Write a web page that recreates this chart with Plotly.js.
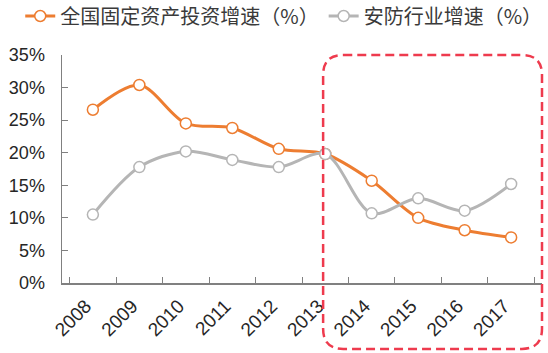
<!DOCTYPE html>
<html><head><meta charset="utf-8">
<script src="https://cdn.plot.ly/plotly-3.0.1.min.js"></script>
<style>html,body{margin:0;padding:0;background:#fff}#chart{width:548px;height:353px}</style>
</head><body><div id="chart"></div>
<script>
var years = ['2008','2009','2010','2011','2012','2013','2014','2015','2016','2017'];
var faiGrowth = [26.6, 30.4, 24.5, 23.8, 20.6, 19.8, 15.7, 10.0, 8.1, 7.0];
var securityGrowth = [10.5, 17.8, 20.2, 18.9, 17.8, 19.8, 10.7, 13.0, 11.1, 15.2];
var seriesNames = ['全国固定资产投资增速（%）', '安防行业增速（%）'];
var yTicks = [0, 5, 10, 15, 20, 25, 30, 35];

var traces = [
  {x: years, y: faiGrowth, name: seriesNames[0], type: 'scatter', mode: 'lines+markers',
   line: {color: '#ED7D31', width: 3, shape: 'spline', smoothing: 0.9},
   marker: {symbol: 'circle', size: 11, color: '#FFFFFF', line: {color: '#ED7D31', width: 1.5}}},
  {x: years, y: securityGrowth, name: seriesNames[1], type: 'scatter', mode: 'lines+markers',
   line: {color: '#B5B5B5', width: 3, shape: 'spline', smoothing: 0.9},
   marker: {symbol: 'circle', size: 11, color: '#FFFFFF', line: {color: '#B5B5B5', width: 1.5}}}
];

// rounded dashed rectangle (paper coords)
var x0 = 0.544, x1 = 1.0, y0 = -0.289, y1 = 1.0, rx = 0.042, ry = 0.088;
var path = 'M ' + (x0+rx) + ' ' + y1 + ' L ' + (x1-rx) + ' ' + y1 +
  ' Q ' + x1 + ' ' + y1 + ' ' + x1 + ' ' + (y1-ry) +
  ' L ' + x1 + ' ' + (y0+ry) + ' Q ' + x1 + ' ' + y0 + ' ' + (x1-rx) + ' ' + y0 +
  ' L ' + (x0+rx) + ' ' + y0 + ' Q ' + x0 + ' ' + y0 + ' ' + x0 + ' ' + (y0+ry) +
  ' L ' + x0 + ' ' + (y1-ry) + ' Q ' + x0 + ' ' + y1 + ' ' + (x0+rx) + ' ' + y1 + ' Z';

var layout = {
  width: 548, height: 353,
  margin: {l: 62, r: 6, t: 55, b: 70, autoexpand: false},
  paper_bgcolor: '#FFFFFF', plot_bgcolor: '#FFFFFF',
  font: {family: 'Liberation Sans, Arial, sans-serif', color: '#262626'},
  showlegend: true,
  legend: {orientation: 'h', x: -0.087, xanchor: 'left', y: 1.171, yanchor: 'middle',
           font: {family: 'Noto Sans CJK SC', size: 20, color: '#3A3A3A'},
           itemgap: 4, bgcolor: 'rgba(0,0,0,0)'},
  xaxis: {type: 'category', tickson: 'boundaries', ticks: 'inside', ticklen: 6, tickcolor: '#808080',
          showline: true, linecolor: '#808080', linewidth: 1.5, showgrid: false, zeroline: false,
          tickangle: -45, tickfont: {size: 19, color: '#262626'}, ticklabelstandoff: 3, ticklabelshift: -7},
  yaxis: {range: [0, 35], tickvals: yTicks, ticktext: yTicks.map(function(v){return v + '%';}),
          ticks: 'inside', ticklen: 6, tickcolor: '#808080',
          showline: true, linecolor: '#808080', linewidth: 1.5, showgrid: false, zeroline: false,
          tickfont: {size: 18, color: '#262626'}, ticklabelstandoff: 12},
  shapes: [{type: 'path', xref: 'paper', yref: 'paper', path: path,
            line: {color: '#EE3B4E', width: 2.5, dash: '9px,5px'}, fillcolor: 'rgba(0,0,0,0)', layer: 'above'}]
};
Plotly.newPlot('chart', traces, layout, {staticPlot: true, displayModeBar: false});
</script></body></html>
